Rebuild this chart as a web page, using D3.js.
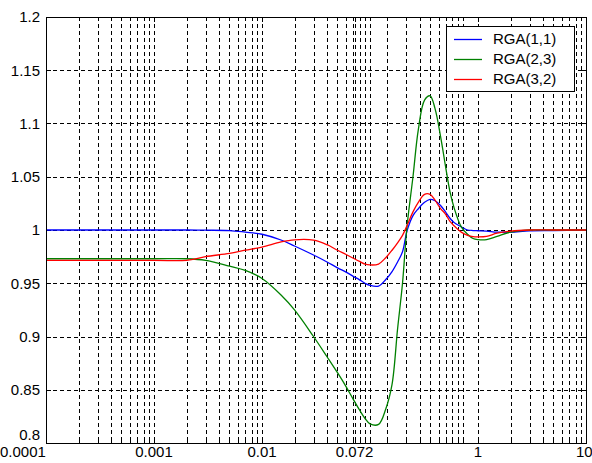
<!DOCTYPE html>
<meta charset="utf-8">

<style>
    body { margin: 0; background: #fff; }
    .tick-label {
        font-family: "Liberation Sans", Arial, sans-serif;
        font-size: 15px;
        fill: #000;
    }
    .grid line {
        stroke: #000;
        stroke-width: 1px;
        stroke-dasharray: 4,3;
        shape-rendering: crispEdges;
    }
    .series {
        fill: none;
        stroke-width: 1.3px;
    }
</style>

<svg width="592" height="463"></svg>

<script src="https://cdn.jsdelivr.net/npm/d3@7"></script>
<script>
    // frequency points (log axis)
    var freq = [0.0001, 0.001, 0.002, 0.003, 0.005, 0.007, 0.01, 0.015, 0.02, 0.03,
        0.04, 0.05, 0.06, 0.07, 0.08, 0.09, 0.1, 0.12, 0.14, 0.16, 0.18, 0.2,
        0.22, 0.25, 0.28, 0.32, 0.36, 0.4, 0.45, 0.5, 0.55, 0.6, 0.7, 0.8, 0.9,
        1, 1.2, 1.5, 2, 3, 5, 10];

    var rga11 = [1.0, 1.0, 1.0, 0.9998, 0.9995, 0.998, 0.996, 0.9906, 0.985, 0.9765,
        0.970, 0.9645, 0.9605, 0.9565, 0.9532, 0.950, 0.948, 0.9474, 0.9535, 0.961, 0.970, 0.9795,
        0.999, 1.0135, 1.020, 1.026, 1.0288, 1.0275, 1.023, 1.017, 1.011, 1.007, 1.003, 1.0, 0.9995,
        0.9993, 0.999, 0.998, 0.998, 0.9992, 0.9995, 1.0];

    var rga23 = [0.973, 0.973, 0.973, 0.9715, 0.966, 0.962, 0.9545, 0.939, 0.925, 0.900,
        0.881, 0.866, 0.853, 0.841, 0.831, 0.823, 0.818, 0.8175, 0.832, 0.855, 0.907, 0.950,
        1.003, 1.05, 1.094, 1.122, 1.126, 1.114, 1.088, 1.06, 1.036, 1.021, 1.003, 0.996, 0.992,
        0.991, 0.991, 0.994, 0.998, 1.0, 1.0, 1.0];

    var rga32 = [0.9715, 0.9715, 0.9715, 0.975, 0.978, 0.981, 0.984, 0.9888, 0.9908, 0.9905,
        0.9862, 0.981, 0.977, 0.9735, 0.9705, 0.968, 0.9672, 0.968, 0.974, 0.981, 0.988, 0.995,
        1.004, 1.017, 1.026, 1.0335, 1.0335, 1.028, 1.020, 1.015, 1.008, 1.004, 0.998, 0.995, 0.9937,
        0.9935, 0.994, 0.997, 0.999, 1.0, 1.0, 1.0];

    var xTicks = [0.0001, 0.001, 0.01, 0.072, 1, 10],
        xTickLabels = ["0.0001", "0.001", "0.01", "0.072", "1", "10"],
        yTicks = [0.8, 0.85, 0.9, 0.95, 1, 1.05, 1.1, 1.15, 1.2],
        yTickLabels = ["0.8", "0.85", "0.9", "0.95", "1", "1.05", "1.1", "1.15", "1.2"];

    var seriesNames = ["RGA(1,1)", "RGA(2,3)", "RGA(3,2)"],
        seriesColors = ["#0000ff", "#008000", "#ff0000"];

    (function () {
        var svg = d3.select("svg"),
            left = 46, right = 586, top = 17, bottom = 443,
            xScale = d3.scaleLog().domain([0.0001, 10]).range([left, right]),
            yScale = d3.scaleLinear().domain([0.8, 1.2]).range([bottom, top]);

        svg.append("rect").attr("width", 592).attr("height", 463).attr("fill", "#fff");

        // minor grid positions: each major tick times 2..10
        var minor = [];
        xTicks.slice(0, -1).forEach(function (t) {
            for (var k = 2; k <= 10; k++) {
                if (t * k <= 10) minor.push(t * k);
            }
        });
        var vGrid = xTicks.slice(1, -1).concat(minor);

        var grid = svg.append("g").attr("class", "grid");
        grid.selectAll("line.v").data(vGrid).enter().append("line")
            .attr("class", "v")
            .attr("x1", function (d) { return Math.round(xScale(d)) + 0.5; })
            .attr("x2", function (d) { return Math.round(xScale(d)) + 0.5; })
            .attr("y1", top).attr("y2", bottom);
        grid.selectAll("line.h").data(yTicks.slice(1, -1)).enter().append("line")
            .attr("class", "h")
            .attr("x1", left).attr("x2", right)
            .attr("y1", function (d) { return Math.round(yScale(d)) + 0.5; })
            .attr("y2", function (d) { return Math.round(yScale(d)) + 0.5; });

        // tick marks inside the box
        var ticks = svg.append("g").attr("stroke", "#000").attr("shape-rendering", "crispEdges");
        xTicks.concat(minor).forEach(function (d) {
            var len = xTicks.indexOf(d) >= 0 ? 5 : 3,
                x = Math.round(xScale(d)) + 0.5;
            ticks.append("line").attr("x1", x).attr("x2", x).attr("y1", bottom).attr("y2", bottom - len);
            ticks.append("line").attr("x1", x).attr("x2", x).attr("y1", top).attr("y2", top + len);
        });
        yTicks.forEach(function (d) {
            var y = Math.round(yScale(d)) + 0.5;
            ticks.append("line").attr("x1", left).attr("x2", left + 5).attr("y1", y).attr("y2", y);
            ticks.append("line").attr("x1", right).attr("x2", right - 5).attr("y1", y).attr("y2", y);
        });

        // curves
        var line = d3.line()
            .x(function (d) { return xScale(d[0]); })
            .y(function (d) { return yScale(d[1]); })
            .curve(d3.curveCatmullRom.alpha(0.5));
        svg.append("clipPath").attr("id", "plot")
            .append("rect").attr("x", left).attr("y", top)
            .attr("width", right - left).attr("height", bottom - top);
        [rga11, rga23, rga32].forEach(function (vals, i) {
            svg.append("path")
                .attr("class", "series")
                .attr("clip-path", "url(#plot)")
                .attr("d", line(d3.zip(freq, vals)))
                .attr("stroke", seriesColors[i]);
        });

        // frame
        svg.append("rect")
            .attr("x", left + 0.5).attr("y", top + 0.5)
            .attr("width", right - left).attr("height", bottom - top)
            .attr("fill", "none").attr("stroke", "#000")
            .attr("shape-rendering", "crispEdges");

        // tick labels (MATLAB pushes the end labels inside the window)
        svg.selectAll("text.xl").data(xTicks).enter().append("text")
            .attr("class", "tick-label")
            .attr("x", function (d, i) {
                if (i === 0) return 0;
                if (i === xTicks.length - 1) return 576;
                return xScale(d);
            })
            .attr("y", 457)
            .attr("text-anchor", function (d, i) {
                return (i === 0 || i === xTicks.length - 1) ? "start" : "middle";
            })
            .text(function (d, i) { return xTickLabels[i]; });
        svg.selectAll("text.yl").data(yTicks).enter().append("text")
            .attr("class", "tick-label")
            .attr("x", 40)
            .attr("y", function (d, i) { return i === 0 ? yScale(d) - 8 : yScale(d); })
            .attr("dy", "0.35em")
            .attr("text-anchor", "end")
            .text(function (d, i) { return yTickLabels[i]; });

        // legend
        var lg = svg.append("g");
        lg.append("rect")
            .attr("x", 446.5).attr("y", 26.5).attr("width", 128).attr("height", 65)
            .attr("fill", "#fff").attr("stroke", "#000")
            .attr("shape-rendering", "crispEdges");
        seriesNames.forEach(function (name, i) {
            var y = 39 + i * 20;
            lg.append("line")
                .attr("x1", 454).attr("x2", 482).attr("y1", y + 0.5).attr("y2", y + 0.5)
                .attr("stroke", seriesColors[i]).attr("stroke-width", 1.3);
            lg.append("text")
                .attr("class", "tick-label")
                .attr("x", 493).attr("y", y).attr("dy", "0.36em")
                .text(name);
        });
    })();
</script>
